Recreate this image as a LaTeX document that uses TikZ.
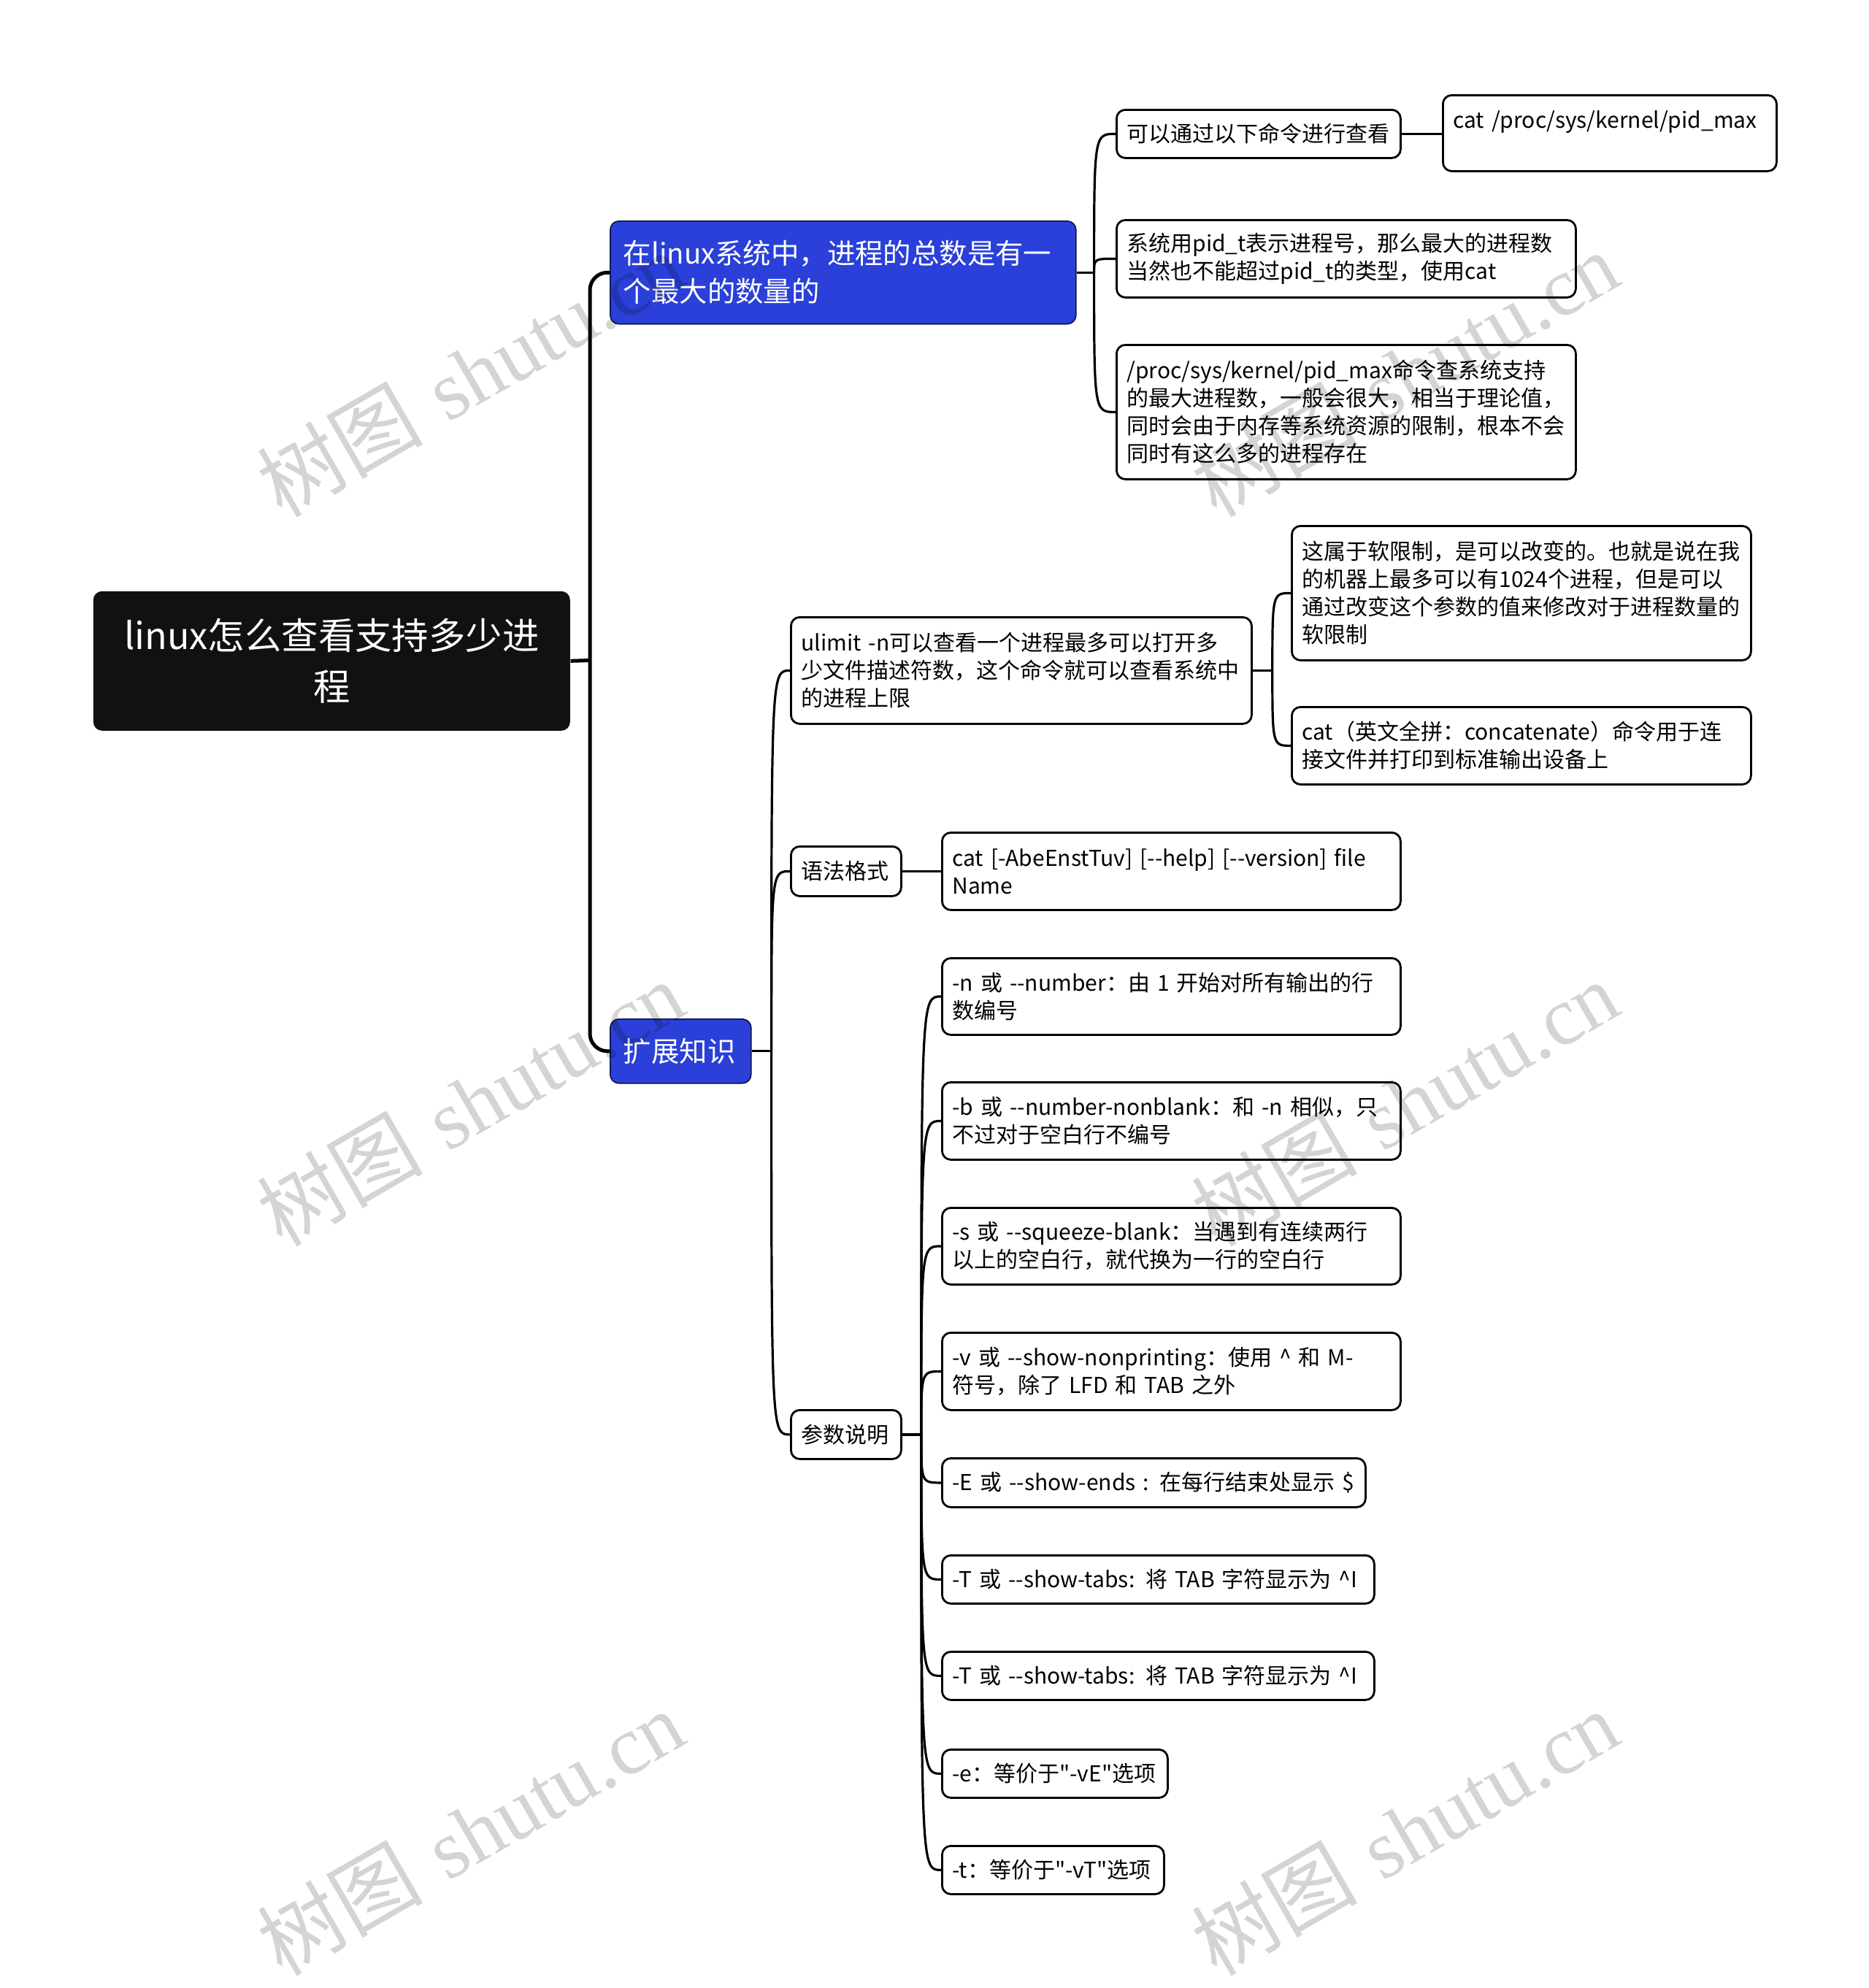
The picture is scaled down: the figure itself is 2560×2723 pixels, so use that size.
\documentclass[tikz,border=0pt]{standalone}
\usepackage{fontspec}
\newfontfamily\cjk{Noto Sans CJK SC}
\newfontfamily\wmlat{Liberation Serif}
\definecolor{blueN}{HTML}{2A40D8}
\definecolor{rootN}{HTML}{111111}
\begin{document}
\begin{tikzpicture}[x=0.25pt,y=-0.25pt,
  every node/.style={font=\cjk},
  base/.style={rounded corners=3pt, anchor=north west, inner xsep=3.5pt, inner ysep=0pt, align=left},
  leaf/.style={base, draw=black, fill=white, line width=0.7pt, font=\cjk\fontsize{7.5pt}{9.5pt}\selectfont},
  topic/.style={base, draw=black!70!blueN, fill=blueN, line width=0.4pt, text=white, inner xsep=4.5pt, font=\cjk\fontsize{9.6pt}{13pt}\selectfont},
  rootbox/.style={rounded corners=3pt, anchor=north west, fill=rootN, text=white, align=center, inner sep=0pt, font=\cjk\fontsize{12.6pt}{17.4pt}\selectfont},
  trunk/.style={line width=1.25pt, rounded corners=6pt},
  conn/.style={line width=0.8pt},
  wm/.style={text=black, text opacity=0.17, rotate=30, inner sep=0pt, font=\fontsize{28.5pt}{30pt}\selectfont}
]
\useasboundingbox (0,0) rectangle (2560,2723);
\fill[white] (0,0) rectangle (2560,2723);

% root and main topics
\node[rootbox, minimum width=163.25pt, minimum height=47.75pt, text width=160pt] (root) at (127,809) {linux怎么查看支持多少进\\程};
\node[topic, minimum width=159.5pt, minimum height=35.25pt, text width=150.5pt] (t1) at (835,302) {在linux系统中，进程的总数是有一\\个最大的数量的};
\node[topic, minimum width=48.25pt, minimum height=22pt, text width=39.25pt] (t2) at (835,1395) {扩展知识};

% children of t1
\node[leaf, minimum width=97.25pt, minimum height=16.5pt, text width=90.25pt] (a1) at (1528,149) {可以通过以下命令进行查看};
\node[leaf, minimum width=114.25pt, minimum height=26pt, text width=107.25pt] (a1x) at (1975,129) {cat /proc/sys/kernel/pid\_max\\\mbox{}};
\node[leaf, minimum width=157.25pt, minimum height=26.5pt, text width=150.25pt] (a2) at (1528,300) {系统用pid\_t表示进程号，那么最大的进程数\\当然也不能超过pid\_t的类型，使用cat};
\node[leaf, minimum width=157.25pt, minimum height=46pt, text width=150.25pt] (a3) at (1528,471) {/proc/sys/kernel/pid\_max命令查系统支持\\的最大进程数，一般会很大，相当于理论值，\\同时会由于内存等系统资源的限制，根本不会\\同时有这么多的进程存在};

% children of t2
\node[leaf, minimum width=157.75pt, minimum height=36.5pt, text width=150.75pt] (b1) at (1082,844) {ulimit -n可以查看一个进程最多可以打开多\\少文件描述符数，这个命令就可以查看系统中\\的进程上限};
\node[leaf, minimum width=157.25pt, minimum height=46pt, text width=150.25pt] (b1a) at (1768,719) {这属于软限制，是可以改变的。也就是说在我\\的机器上最多可以有1024个进程，但是可以\\通过改变这个参数的值来修改对于进程数量的\\软限制};
\node[leaf, minimum width=157.25pt, minimum height=26.5pt, text width=150.25pt] (b1b) at (1768,967) {cat（英文全拼：concatenate）命令用于连\\接文件并打印到标准输出设备上};
\node[leaf, minimum width=37.75pt, minimum height=17pt, text width=30.75pt] (b2) at (1082,1158) {语法格式};
\node[leaf, minimum width=157pt, minimum height=26.5pt, text width=150pt] (b2a) at (1289,1139) {cat [-AbeEnstTuv] [--help] [--version] file\\Name};
\node[leaf, minimum width=37.75pt, minimum height=16.75pt, text width=30.75pt] (b3) at (1082,1930) {参数说明};

% children of b3
\node[leaf, minimum width=157pt, minimum height=26.25pt, text width=150pt] (c1) at (1289,1311) {-n 或 --number：由 1 开始对所有输出的行\\数编号};
\node[leaf, minimum width=157pt, minimum height=26.5pt, text width=150pt] (c2) at (1289,1481) {-b 或 --number-nonblank：和 -n 相似，只\\不过对于空白行不编号};
\node[leaf, minimum width=157pt, minimum height=26.25pt, text width=150pt] (c3) at (1289,1653) {-s 或 --squeeze-blank：当遇到有连续两行\\以上的空白行，就代换为一行的空白行};
\node[leaf, minimum width=157pt, minimum height=26.5pt, text width=150pt] (c4) at (1289,1824) {-v 或 --show-nonprinting：使用 \textasciicircum{} 和 M-\\符号，除了 LFD 和 TAB 之外};
\node[leaf, minimum width=145pt, minimum height=16.75pt, text width=138pt] (c5) at (1289,1996) {-E 或 --show-ends : 在每行结束处显示 \$};
\node[leaf, minimum width=148pt, minimum height=16.5pt, text width=141pt] (c6) at (1289,2129) {-T 或 --show-tabs: 将 TAB 字符显示为 \textasciicircum I};
\node[leaf, minimum width=148pt, minimum height=16.5pt, text width=141pt] (c7) at (1289,2261) {-T 或 --show-tabs: 将 TAB 字符显示为 \textasciicircum I};
\node[leaf, minimum width=77.25pt, minimum height=16.5pt, text width=70.25pt] (c8) at (1289,2395) {-e：等价于"-vE"选项};
\node[leaf, minimum width=76pt, minimum height=16.5pt, text width=69pt] (c9) at (1289,2527) {-t：等价于"-vT"选项};

% main trunk
\coordinate (tk) at (808,904.5);
\draw[trunk] (root.east) -- (tk);
\draw[trunk] (t1.west) -| (tk) |- (t2.west);

% t1 branches
\coordinate (j1) at ([xshift=6pt]t1.east);
\draw[conn] (t1.east) -- (j1);
\foreach \n in {a1,a2,a3} \draw[conn] (j1) .. controls (j1 |- \n.west) .. (\n.west);
\draw[conn] (a1.east) -- (a1.east -| a1x.west);

% t2 branches
\coordinate (j2) at ([xshift=6.75pt]t2.east);
\draw[conn] (t2.east) -- (j2);
\foreach \n in {b1,b2,b3} \draw[conn] (j2) .. controls (j2 |- \n.west) .. (\n.west);

\coordinate (j3) at ([xshift=6.75pt]b1.east);
\draw[conn] (b1.east) -- (j3);
\foreach \n in {b1a,b1b} \draw[conn] (j3) .. controls (j3 |- \n.west) .. (\n.west);

\draw[conn] (b2.east) -- (b2a.west);

\coordinate (j4) at ([xshift=6.5pt]b3.east);
\draw[conn] (b3.east) -- (j4);
\foreach \n in {c1,c2,c3,c4,c5,c6,c7,c8,c9} \draw[conn] (j4) .. controls (j4 |- \n.west) .. (\n.west);

% watermarks
\node[wm] (w1) at (644,512) {{\cjk 树图} {\wmlat shutu.cn}};
\node[wm] (w2) at (644,1511) {{\cjk 树图} {\wmlat shutu.cn}};
\node[wm] (w3) at (644,2510) {{\cjk 树图} {\wmlat shutu.cn}};
\node[wm] (w4) at (1924,512) {{\cjk 树图} {\wmlat shutu.cn}};
\node[wm] (w5) at (1924,1511) {{\cjk 树图} {\wmlat shutu.cn}};
\node[wm] (w6) at (1924,2510) {{\cjk 树图} {\wmlat shutu.cn}};
\end{tikzpicture}
\end{document}
